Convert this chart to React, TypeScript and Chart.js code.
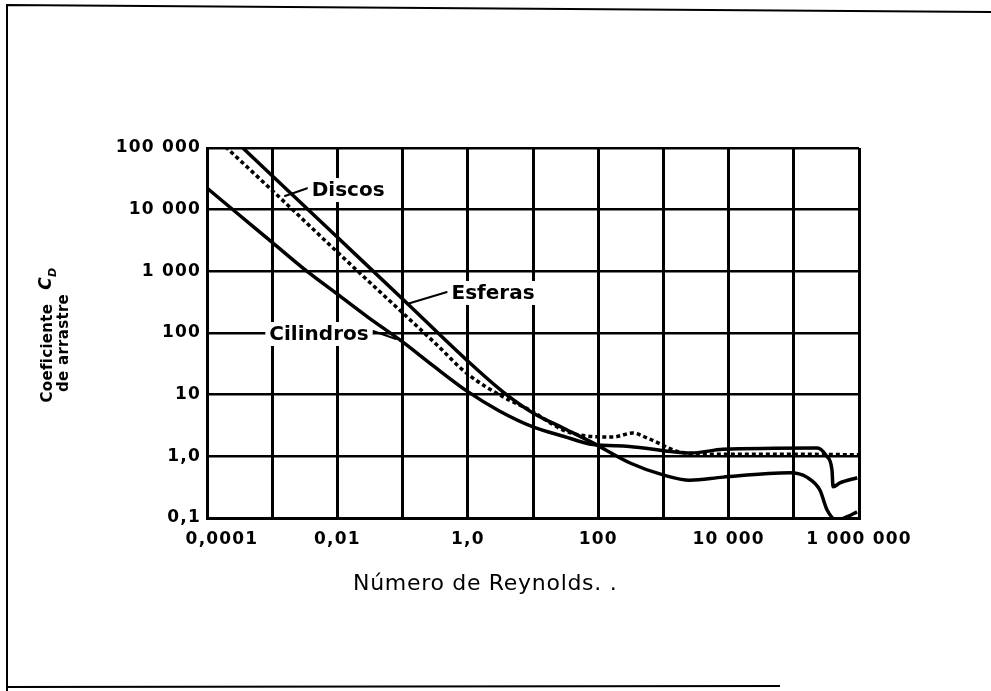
import React, { useEffect, useRef } from "react";
import { Chart, registerables } from "chart.js";

Chart.register(...registerables);

// ---- axis ticks ----
const reynoldsTicks = [1e-4, 1e-3, 1e-2, 1e-1, 1, 10, 100, 1e3, 1e4, 1e5, 1e6];
const reynoldsLabels = ["0,0001", "", "0,01", "", "1,0", "", "100", "", "10 000", "", "1 000 000"];
const cdTicks = [0.1, 1, 10, 100, 1000, 10000, 100000];
const cdLabels = ["0,1", "1,0", "10", "100", "1 000", "10 000", "100 000"];

// ---- series ----
const esferasRe = [2.5e-4, 1e-3, 0.01, 0.1, 1, 3.5, 10, 29, 83, 308, 986, 2560, 8200, 87000, 158000, 251000, 324000, 457000, 661000, 933000];
const esferasCd = [142000, 35600, 3560, 356, 35, 11, 5.05, 2.88, 1.65, 0.78, 0.5, 0.41, 0.46, 0.54, 0.46, 0.284, 0.135, 0.093, 0.105, 0.126];

const discosRe = [1.6e-4, 1e-3, 0.01, 0.1, 0.3, 1, 3.5, 9, 29, 52, 169, 340, 560, 1800, 3500, 10000, 100000, 1000000];
const discosCd = [125000, 20500, 2050, 212, 72, 21.5, 9.2, 5.6, 2.67, 2.22, 2.06, 2.39, 1.99, 1.17, 1.1, 1.08, 1.08, 1.06];

const cilindrosRe = [1e-4, 3e-4, 1e-3, 3e-3, 0.01, 0.03, 0.1, 0.3, 1, 3, 10, 30, 83, 300, 1300, 2600, 8200, 50000, 230000, 320000, 385000, 400000, 510000, 940000];
const cilindrosCd = [22400, 8500, 2950, 1120, 427, 178, 72, 29, 11.2, 5.5, 3.0, 2.1, 1.55, 1.45, 1.2, 1.13, 1.3, 1.35, 1.36, 1.0, 0.6, 0.32, 0.37, 0.45];

// ---- annotations (data coordinates) ----
const noteText = ["Discos", "Esferas", "Cilindros"];
const noteRe = [0.0146, 2.44, 0.00522];
const noteCd = [20800, 446, 96.4];
const leaderFromRe = [0.00354, 0.48, 0.0352];
const leaderFromCd = [22440, 462, 108];
const leaderToRe = [0.00157, 0.117, 0.0793];
const leaderToCd = [16670, 295, 80];

const xTitle = "Número de Reynolds. .";
const yTitle1 = "Coeficiente";
const yTitle2 = "de arrastre";

const FONT = "'DejaVu Sans', 'Liberation Sans', Arial, sans-serif";

const pts = (xs: number[], ys: number[]) => xs.map((x, i) => ({ x, y: ys[i] }));

const decor = {
  id: "decor",
  beforeDraw(chart: any) {
    (chart.ctx as any).letterSpacing = "1.2px";
  },
  beforeDatasetsDraw(chart: any) {
    const { ctx } = chart;
    const xs = chart.scales.x;
    const ys = chart.scales.y;
    ctx.save();
    (ctx as any).letterSpacing = "0px";
    // leaders
    ctx.strokeStyle = "#000";
    ctx.lineWidth = 2;
    ctx.lineCap = "round";
    for (let i = 0; i < noteText.length; i++) {
      ctx.beginPath();
      ctx.moveTo(xs.getPixelForValue(leaderFromRe[i]), ys.getPixelForValue(leaderFromCd[i]));
      ctx.lineTo(xs.getPixelForValue(leaderToRe[i]), ys.getPixelForValue(leaderToCd[i]));
      ctx.stroke();
    }
    // labels with white box
    ctx.font = `bold 20px ${FONT}`;
    ctx.textAlign = "center";
    ctx.textBaseline = "middle";
    for (let i = 0; i < noteText.length; i++) {
      const px = xs.getPixelForValue(noteRe[i]);
      const py = ys.getPixelForValue(noteCd[i]);
      const w = ctx.measureText(noteText[i]).width;
      ctx.fillStyle = "#fff";
      ctx.fillRect(px - w / 2 - 4, py - 12, w + 8, 24);
      ctx.fillStyle = "#000";
      ctx.fillText(noteText[i], px, py + 1);
    }
    ctx.restore();
  },
  afterDraw(chart: any) {
    const { ctx, chartArea } = chart;
    const xs = chart.scales.x;
    ctx.save();
    // outer frame
    ctx.strokeStyle = "#000";
    ctx.lineWidth = 2;
    ctx.beginPath();
    ctx.moveTo(7, 691);
    ctx.lineTo(7, 5);
    ctx.lineTo(991, 12);
    ctx.stroke();
    ctx.beginPath();
    ctx.moveTo(7, 687);
    ctx.lineTo(780, 686);
    ctx.stroke();

    // x tick labels
    ctx.fillStyle = "#000";
    ctx.font = `bold 17px ${FONT}`;
    ctx.textAlign = "center";
    ctx.textBaseline = "middle";
    (ctx as any).letterSpacing = "1.2px";
    reynoldsTicks.forEach((v, i) => {
      const t = reynoldsLabels[i];
      if (!t) return;
      let px = xs.getPixelForValue(v);
      if (i === 0) px += 15;
      ctx.fillText(t, px, chartArea.bottom + 22);
    });

    // x title
    ctx.font = `22px ${FONT}`;
    (ctx as any).letterSpacing = "0.7px";
    ctx.textAlign = "left";
    ctx.fillText(xTitle, 353, 584);

    // y title (rotated)
    (ctx as any).letterSpacing = "0.3px";
    const cy = 335;
    ctx.save();
    ctx.translate(48, cy);
    ctx.rotate(-Math.PI / 2);
    ctx.font = `bold 15px ${FONT}`;
    const w1 = ctx.measureText(yTitle1).width;
    ctx.font = `italic bold 17px ${FONT}`;
    const wc = ctx.measureText("C").width;
    ctx.font = `italic bold 11px ${FONT}`;
    const wd = ctx.measureText("D").width;
    const gap = 14;
    const total = w1 + gap + wc + wd;
    let sx = -total / 2;
    ctx.textAlign = "left";
    ctx.font = `bold 15px ${FONT}`;
    ctx.fillText(yTitle1, sx, 0);
    sx += w1 + gap;
    ctx.font = `italic bold 17px ${FONT}`;
    ctx.fillText("C", sx, -1);
    sx += wc;
    ctx.font = `italic bold 11px ${FONT}`;
    ctx.fillText("D", sx, 5);
    ctx.restore();

    ctx.save();
    ctx.translate(64, cy + 8);
    ctx.rotate(-Math.PI / 2);
    ctx.font = `bold 15px ${FONT}`;
    ctx.textAlign = "center";
    ctx.fillText(yTitle2, 0, 0);
    ctx.restore();

    ctx.restore();
    (ctx as any).letterSpacing = "0px";
  },
};

export default function App() {
  const ref = useRef<HTMLCanvasElement>(null);
  useEffect(() => {
    const chart = new Chart(ref.current as HTMLCanvasElement, {
      type: "line",
      data: {
        datasets: [
          {
            label: "Esferas",
            data: pts(esferasRe, esferasCd),
            borderColor: "#000",
            borderWidth: 3.5,
            pointRadius: 0,
            cubicInterpolationMode: "monotone",
            fill: false,
          },
          {
            label: "Discos",
            data: pts(discosRe, discosCd),
            borderColor: "#000",
            borderWidth: 3.5,
            borderDash: [4, 3],
            pointRadius: 0,
            cubicInterpolationMode: "monotone",
            fill: false,
          },
          {
            label: "Cilindros",
            data: pts(cilindrosRe, cilindrosCd),
            borderColor: "#000",
            borderWidth: 3.5,
            pointRadius: 0,
            cubicInterpolationMode: "monotone",
            fill: false,
          },
        ],
      } as any,
      options: {
        responsive: false,
        animation: false,
        devicePixelRatio: 1,
        parsing: false as any,
        normalized: true,
        layout: { padding: { top: 148, right: 132, left: 0, bottom: 0 } },
        plugins: {
          legend: { display: false },
          tooltip: { enabled: false },
        },
        scales: {
          x: {
            type: "logarithmic",
            min: 1e-4,
            max: 1e6,
            afterBuildTicks: (s: any) => {
              s.ticks = reynoldsTicks.map((v) => ({ value: v }));
            },
            afterFit: (s: any) => {
              s.height = 173;
            },
            ticks: { display: false },
            grid: { color: "#000", lineWidth: 3, drawTicks: false },
            border: { color: "#000", width: 3 },
          },
          y: {
            type: "logarithmic",
            min: 0.1,
            max: 1e5,
            afterBuildTicks: (s: any) => {
              s.ticks = cdTicks.map((v) => ({ value: v }));
            },
            afterFit: (s: any) => {
              s.width = 207;
            },
            ticks: {
              color: "#000",
              padding: 6,
              font: { family: FONT, size: 17, weight: "bold" },
              callback: (_v: any, i: number) => cdLabels[i],
            },
            grid: { color: "#000", lineWidth: 2.5, drawTicks: false },
            border: { color: "#000", width: 3 },
          },
        },
      } as any,
      plugins: [decor],
    });
    return () => chart.destroy();
  }, []);
  return (
    <div style={{ position: "absolute", left: 0, top: 0, width: 991, height: 691, background: "#fff" }}>
      <canvas ref={ref} width={991} height={691} style={{ display: "block", width: 991, height: 691 }} />
    </div>
  );
}
